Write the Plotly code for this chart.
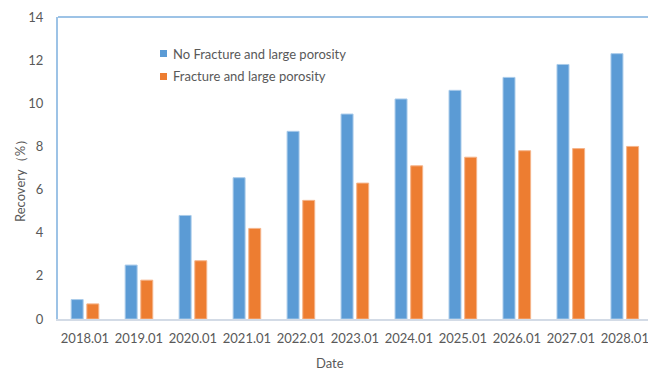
import plotly.graph_objects as go

categories = ["2018.01", "2019.01", "2020.01", "2021.01", "2022.01", "2023.01",
              "2024.01", "2025.01", "2026.01", "2027.01", "2028.01"]
no_fracture = [0.9, 2.5, 4.8, 6.55, 8.7, 9.5, 10.2, 10.6, 11.2, 11.8, 12.3]
fracture = [0.7, 1.8, 2.7, 4.2, 5.5, 6.3, 7.1, 7.5, 7.8, 7.9, 8.0]
series_names = ["No Fracture and large porosity", "Fracture and large porosity"]
colors = ["#5B9BD5", "#ED7D31"]
y_ticks = [0, 2, 4, 6, 8, 10, 12, 14]

FONT = "Lato"
TXT = "#595959"
FS = 13

fig = go.Figure()
for name, vals, c, edge in zip(series_names, [no_fracture, fracture], colors,
                               ["#A9CBEA", "#F5B48A"]):
    fig.add_trace(go.Bar(x=categories, y=vals, name=name, marker_color=c,
                         marker_line=dict(color=edge, width=1), showlegend=False))

fig.update_layout(
    width=648, height=370,
    margin=dict(l=58, r=0, t=17, b=51),
    paper_bgcolor="white", plot_bgcolor="white",
    barmode="group", bargap=0.42, bargroupgap=0.235,
    font=dict(family=FONT, size=FS, color=TXT),
    xaxis=dict(range=[-0.5, 10.43], showgrid=False, showline=True,
               linecolor="#D3DBE6", linewidth=1.5, ticks="",
               tickfont=dict(family=FONT, size=FS, color=TXT),
               ticklabelstandoff=7, fixedrange=True),
    yaxis=dict(range=[0, 14], tickvals=y_ticks, showgrid=False, showline=True,
               linecolor="#9DC3E6", linewidth=2, ticks="", zeroline=False,
               tickfont=dict(family=FONT, size=FS, color=TXT),
               ticklabelstandoff=10, fixedrange=True),
)

# top border of plot area
fig.add_shape(type="line", xref="paper", yref="paper", x0=0, x1=1, y0=1, y1=1,
              line=dict(color="#9DC3E6", width=2))

# axis titles
fig.add_annotation(text="Recovery（%）", xref="paper", yref="paper",
                   x=-58/590 + 20/590, y=1 - (177 - 17) / 302, textangle=-90,
                   showarrow=False, xanchor="center", yanchor="middle",
                   font=dict(family=FONT, size=FS, color=TXT))
fig.add_annotation(text="Date", xref="paper", yref="paper",
                   x=(330 - 58) / 590, y=-(363 - 319) / 302, showarrow=False,
                   xanchor="center", yanchor="middle",
                   font=dict(family=FONT, size=FS, color=TXT))

# legend (manual, to match swatch size and spacing)
for i, (name, c) in enumerate(zip(series_names, colors)):
    yc = 53.5 + 23 * i
    x0 = (160 - 58) / 590
    x1 = (167 - 58) / 590
    y0 = 1 - (yc - 3.5 - 17) / 302
    y1 = 1 - (yc + 3.5 - 17) / 302
    fig.add_shape(type="rect", xref="paper", yref="paper", x0=x0, x1=x1,
                  y0=y0, y1=y1, fillcolor=c, line=dict(width=0))
    fig.add_annotation(text=name, xref="paper", yref="paper",
                       x=(171 - 58) / 590, y=1 - (yc - 17) / 302,
                       showarrow=False, xanchor="left", yanchor="middle",
                       font=dict(family=FONT, size=FS, color=TXT))

fig.write_html("out.html")
